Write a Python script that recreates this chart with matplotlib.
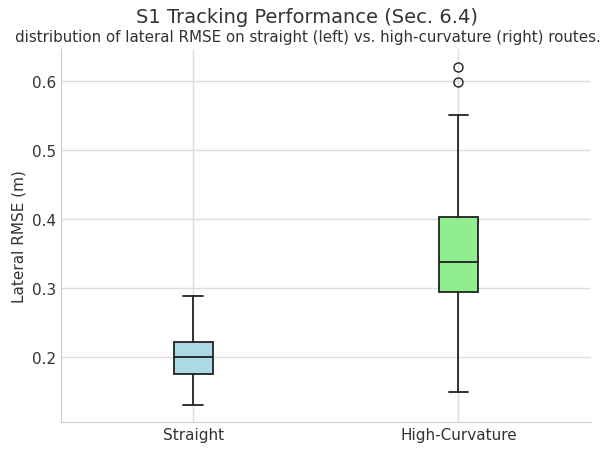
import matplotlib
matplotlib.use("Agg")
import matplotlib.pyplot as plt
import seaborn as sns

# box statistics
labels = ["Straight", "High-Curvature"]
whislo = [0.131, 0.149]
q1 = [0.176, 0.295]
med = [0.200, 0.338]
q3 = [0.222, 0.403]
whishi = [0.289, 0.550]
fliers = [[], [0.599, 0.620]]
colors = ["lightblue", "lightgreen"]

sns.set_style("whitegrid")
plt.rcParams['font.family'] = ['DejaVu Sans']

stats = []
for i, lab in enumerate(labels):
    stats.append(dict(label=lab, whislo=whislo[i], q1=q1[i], med=med[i],
                      q3=q3[i], whishi=whishi[i], fliers=fliers[i]))

fig, ax = plt.subplots(figsize=(6.15, 4.52), dpi=100)
fig.subplots_adjust(left=0.099, right=0.961, bottom=0.064, top=0.889)

bp = ax.bxp(stats, patch_artist=True, widths=0.15,
            boxprops=dict(edgecolor="#222222", linewidth=1.3),
            medianprops=dict(color="#222222", linewidth=1.3),
            whiskerprops=dict(color="#222222", linewidth=1.3),
            capprops=dict(color="#222222", linewidth=1.3),
            flierprops=dict(marker="o", markerfacecolor="none",
                            markeredgecolor="#222222", markersize=6.5))
for patch, c in zip(bp["boxes"], colors):
    patch.set_facecolor(c)

ax.set_xlim(0.5, 2.5)
ax.set_ylim(0.106, 0.646)
ax.set_yticks([0.2, 0.3, 0.4, 0.5, 0.6])
ax.set_ylabel("Lateral RMSE (m)", fontsize=11, color="#333333")
ax.tick_params(axis="both", labelsize=11, colors="#333333", length=0)
for s in ["top", "right"]:
    ax.spines[s].set_visible(False)
for s in ["left", "bottom"]:
    ax.spines[s].set_color("#cccccc")
ax.grid(True, color="#dddddd", linewidth=1)

fig.text(0.5, 0.962, "S1 Tracking Performance (Sec. 6.4)", ha="center",
         va="center", fontsize=14, color="#333333")
fig.text(0.5, 0.918, "distribution of lateral RMSE on straight (left) vs. high-curvature (right) routes.",
         ha="center", va="center", fontsize=10.9, color="#333333")

fig.savefig("out.png", dpi=100)
